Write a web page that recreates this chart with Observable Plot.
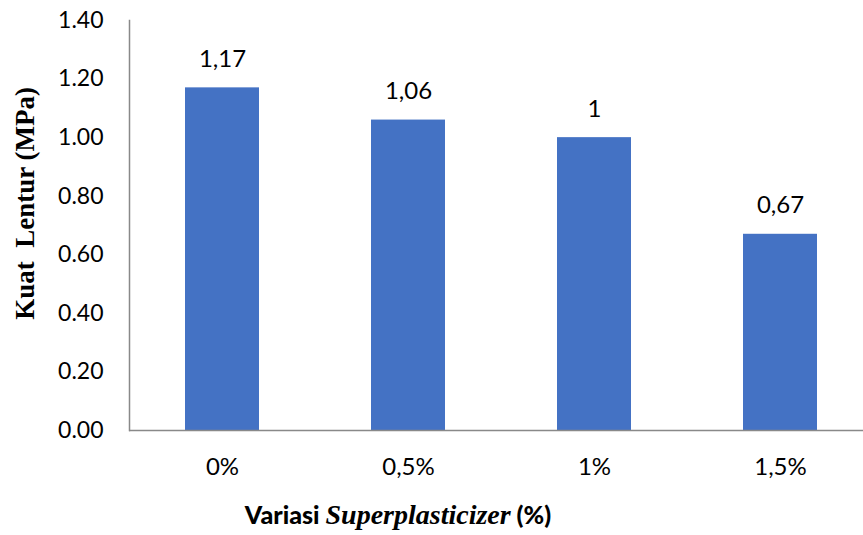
<!DOCTYPE html>
<html>
<head>
<meta charset="utf-8">
<script src="https://cdn.jsdelivr.net/npm/d3@7"></script>
<script src="https://cdn.jsdelivr.net/npm/@observablehq/plot@0.6"></script>
<style>
  body { margin: 0; background: #fff; }
  #wrap { position: relative; width: 863px; height: 535px; overflow: hidden; }
  #xtitle {
    position: absolute; left: 0; top: 492px; width: 796px; height: 45px;
    line-height: 45px; text-align: center; color: #000; white-space: nowrap;
    font-family: Lato, sans-serif; font-weight: 900; font-size: 25px;
  }
  #xtitle i { font-family: "Liberation Serif", "Times New Roman", serif; font-size: 28px; font-weight: bold; }
</style>
</head>
<body>
<div id="wrap">
  <div id="chart"></div>
  <div id="xtitle">Variasi <i>Superplasticizer</i> (%)</div>
</div>
<script>
const categories = ["0%", "0,5%", "1%", "1,5%"];
const values = [1.17, 1.06, 1.00, 0.67];
const valueLabels = ["1,17", "1,06", "1", "0,67"];
const yTicks = [0, 0.2, 0.4, 0.6, 0.8, 1.0, 1.2, 1.4];
const yTitle = "Kuat\u00a0 Lentur (MPa)";

const data = categories.map((c, i) => ({cat: c, val: values[i], label: valueLabels[i]}));

const chart = Plot.plot({
  width: 863,
  height: 490,
  marginTop: 20,
  marginBottom: 60,
  marginLeft: 129,
  marginRight: 0,
  style: {fontFamily: "Lato, sans-serif", fontSize: "23px", color: "#000", background: "#fff"},
  x: {domain: categories, range: [129, 874], paddingInner: 0.6, paddingOuter: 0.3, label: null},
  y: {domain: [0, 1.4], label: null},
  marks: [
    Plot.barY(data, {x: "cat", y: "val", fill: "#4472C4"}),
    Plot.text(data, {x: "cat", y: "val", text: "label", lineAnchor: "bottom", dy: -21, fontSize: 24, fill: "#000"}),
    Plot.axisY({ticks: yTicks, tickFormat: d3.format(".2f"), tickSize: 0, tickPadding: 26, label: null, fontSize: 23}),
    Plot.axisX({tickSize: 0, tickPadding: 27, label: null, fontSize: 24}),
    Plot.frame({anchor: "left", stroke: "#898989", strokeWidth: 1.5}),
    Plot.ruleY([0], {stroke: "#898989", strokeWidth: 1.5}),
    Plot.text([yTitle], {frameAnchor: "left", textAnchor: "middle", lineAnchor: "middle", rotate: -90, dx: -104, dy: -22, fontFamily: "'Liberation Serif', 'Times New Roman', serif", fontWeight: "bold", fontSize: 27, fill: "#000"})
  ]
});
document.getElementById("chart").appendChild(chart);
</script>
</body>
</html>
